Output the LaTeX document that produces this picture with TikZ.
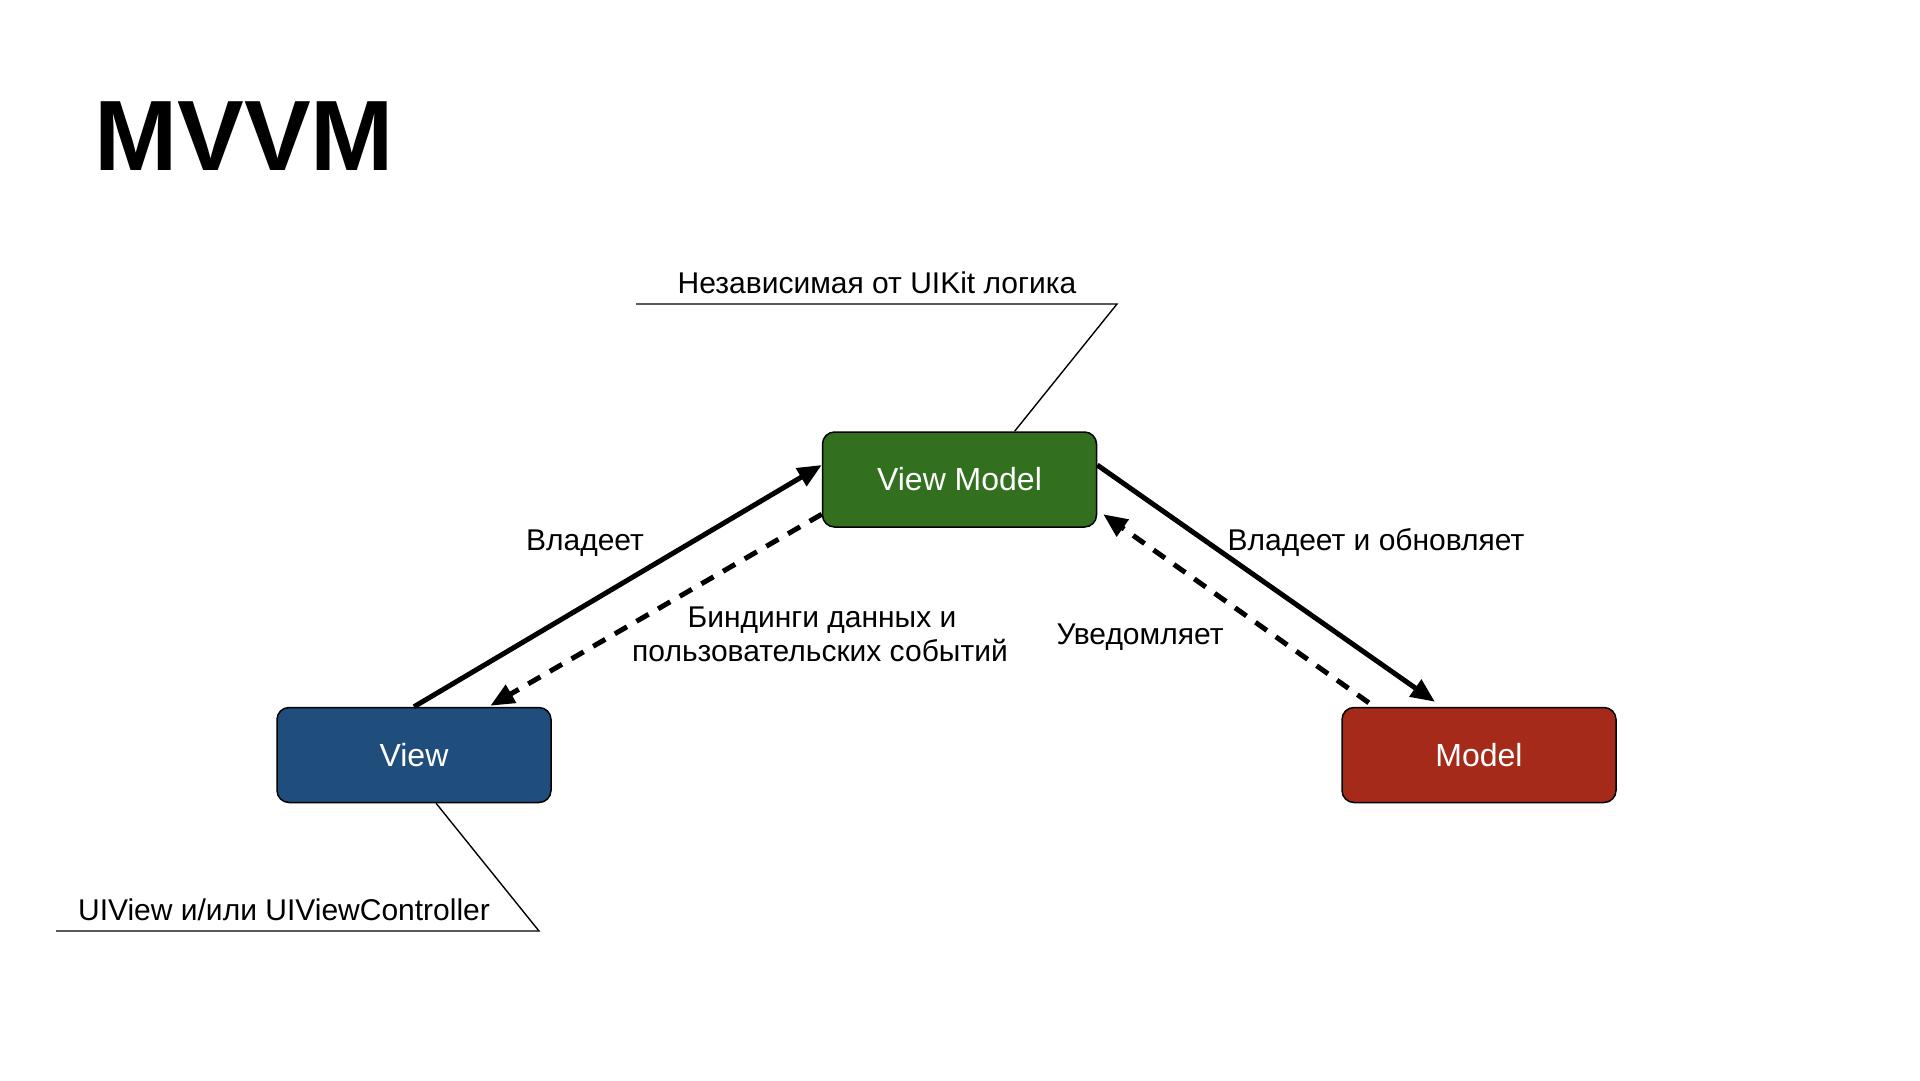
\documentclass[tikz,border=0pt]{standalone}
\usepackage{fontspec}
\setmainfont{Liberation Sans}
\usetikzlibrary{arrows.meta,calc}
\definecolor{vmgreen}{RGB}{50,112,32}
\definecolor{viewblue}{RGB}{32,78,124}
\definecolor{modelred}{RGB}{166,42,26}
\tikzset{
  box/.style={draw=black, line width=1.5pt, rounded corners=12pt, text=white,
    minimum width=274pt, minimum height=95pt, inner sep=0pt,
    font=\fontsize{32}{38}\selectfont},
  lbl/.style={font=\fontsize{30}{36}\selectfont, inner sep=0pt, anchor=base, align=center},
  solidarrow/.style={line width=5pt, -{Triangle[length=24pt,width=20pt]}},
  dasharrow/.style={line width=5pt, dash pattern=on 14pt off 11pt, -{Triangle[length=24pt,width=20pt]}},
  callout/.style={line width=1.4pt}
}
\begin{document}
\begin{tikzpicture}[x=1pt,y=-1pt]
\fill[white] (0,0) rectangle (1920,1080);
\useasboundingbox (0,0) rectangle (1920,1080);

\node[anchor=base west, inner sep=0pt, font=\fontsize{100}{110}\selectfont\bfseries] (title) at (94,170) {MVVM};

\node[box, fill=vmgreen] (vm) at (959.5,479.5) {View Model};
\node[box, fill=viewblue] (view) at (414,755) {View};
\node[box, fill=modelred] (model) at (1479,755) {Model};

% arrows
\draw[solidarrow] (view.north) -- ($(vm.north west)!0.35!(vm.south west)$);
\draw[dasharrow] ($(vm.north west)!0.86!(vm.south west)$) -- ($(view.north west)!0.777!(view.north east)+(0,-1)$);
\draw[solidarrow] ($(vm.north east)!0.35!(vm.south east)$) -- ($(model.north west)!0.34!(model.north east)+(0,-5)$);
\draw[dasharrow] ($(model.north west)!0.1!(model.north east)+(0,-4)$) -- ($(vm.north east)!0.86!(vm.south east)+(6,0)$);

% labels
\node[lbl] (l1) at (585,550) {Владеет};
\node[lbl] (l2) at (1376,550) {Владеет и обновляет};
\node[lbl] (l3) at (822,627) {Биндинги данных и};
\node[lbl] (l3b) at (820,661) {пользовательских событий};
\node[lbl] (l4) at (1140,644) {Уведомляет};

% callouts
\node[lbl] (ct) at (877,293) {Независимая от UIKit логика};
\coordinate (ctl) at (636,304);
\coordinate (ctr) at (1117,304);
\draw[callout] (ctl) -- (ctr) -- ($(vm.north west)!0.7!(vm.north east)$);

\node[lbl] (cb) at (284,920) {UIView и/или UIViewController};
\coordinate (cbl) at (56,931);
\coordinate (cbr) at (539,931);
\draw[callout] (cbl) -- (cbr) -- ($(view.south west)!0.58!(view.south east)$);
\end{tikzpicture}
\end{document}
